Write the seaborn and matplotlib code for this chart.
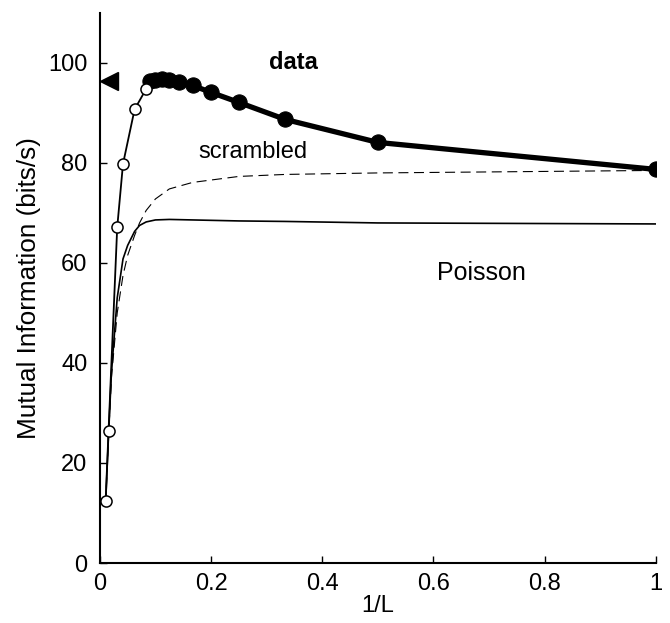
import numpy as np
import pandas as pd
import matplotlib
matplotlib.use("Agg")
import matplotlib.pyplot as plt
import seaborn as sns

# Data (x = 1/L)
L_filled = [1, 2, 3, 4, 5, 6, 7, 8, 9, 10, 11]
mi_filled = [78.7, 84.1, 88.7, 92.1, 94.1, 95.5, 96.1, 96.5, 96.7, 96.6, 96.3]
L_open = [11, 12, 16, 24, 32, 64, 96]
mi_open = [96.3, 94.8, 90.7, 79.8, 67.1, 26.3, 12.3]

x_poisson = [1/96, 1/64, 1/48, 1/32, 1/24, 1/20, 1/16, 1/14, 1/12, 1/10, 1/8, 1/6, 1/4, 1/3, 1/2, 1.0]
mi_poisson = [12.0, 25.5, 38.0, 53.0, 60.8, 63.5, 66.3, 67.5, 68.2, 68.6, 68.7, 68.6, 68.4, 68.3, 68.0, 67.8]
x_scrambled = [1/96, 1/64, 1/48, 1/32, 1/24, 1/20, 1/16, 1/14, 1/12, 1/10, 1/8, 1/6, 1/4, 1/3, 1/2, 1.0]
mi_scrambled = [12.0, 25.0, 37.0, 50.0, 57.5, 61.5, 65.5, 68.0, 70.5, 72.8, 74.8, 76.1, 77.3, 77.7, 78.0, 78.5]

full_info = 96.4  # triangle marker

sns.set_style("ticks")
plt.rcParams['font.family'] = ['Liberation Sans', 'DejaVu Sans']
plt.rcParams['text.color'] = 'black'
plt.rcParams['axes.labelcolor'] = 'black'

fig = plt.figure(figsize=(6.70, 6.23), dpi=100)
ax = fig.add_axes([0.149, 0.0963, 0.830, 0.883])

df_p = pd.DataFrame({"x": x_poisson, "y": mi_poisson})
df_s = pd.DataFrame({"x": x_scrambled, "y": mi_scrambled})
df_f = pd.DataFrame({"x": [1/l for l in L_filled], "y": mi_filled})
df_o = pd.DataFrame({"x": [1/l for l in L_open], "y": mi_open})

sns.lineplot(data=df_p, x="x", y="y", ax=ax, color="black", lw=1.2, sort=True, estimator=None)
sns.lineplot(data=df_s, x="x", y="y", ax=ax, color="black", lw=0.8, sort=True, estimator=None,
             dashes=False)
ax.lines[-1].set_dashes([9, 5])
sns.lineplot(data=df_o, x="x", y="y", ax=ax, color="black", lw=1.3, sort=True, estimator=None)
ax.plot(df_o["x"][1:], df_o["y"][1:], 'o', mfc='white', mec='black', ms=8, mew=1.1, zorder=4)
sns.lineplot(data=df_f, x="x", y="y", ax=ax, color="black", lw=3.8, sort=True, estimator=None,
             marker='o', markersize=11, markeredgecolor='black', markerfacecolor='black')
ax.plot([0.016], [full_info], marker='<', color='black', ms=13, clip_on=False, zorder=5)

ax.text(0.348, 100.0, "data", fontsize=17, fontweight='bold', ha='center', va='center', color='black')
ax.text(0.276, 82.2, "scrambled", fontsize=17, ha='center', va='center', color='black')
ax.text(0.686, 58.0, "Poisson", fontsize=18, ha='center', va='center', color='black')

ax.set_xlim(0, 1)
ax.set_ylim(0, 110)
ax.set_xticks([0, 0.2, 0.4, 0.6, 0.8, 1])
ax.set_xticklabels(["0", "0.2", "0.4", "0.6", "0.8", "1"])
ax.set_yticks([0, 20, 40, 60, 80, 100])
ax.tick_params(direction='in', labelsize=17, length=5, width=1, colors='black')
ax.tick_params(axis='y', pad=9)
ax.tick_params(axis='x', pad=7)
ax.set_xlabel("1/L", fontsize=17, labelpad=0, color='black')
ax.set_ylabel("Mutual Information (bits/s)", fontsize=18.8, labelpad=5, color='black')
for s in ['top', 'right']:
    ax.spines[s].set_visible(False)
for s in ['left', 'bottom']:
    ax.spines[s].set_linewidth(1.5)
    ax.spines[s].set_color('black')

fig.savefig("out.png", dpi=100)
